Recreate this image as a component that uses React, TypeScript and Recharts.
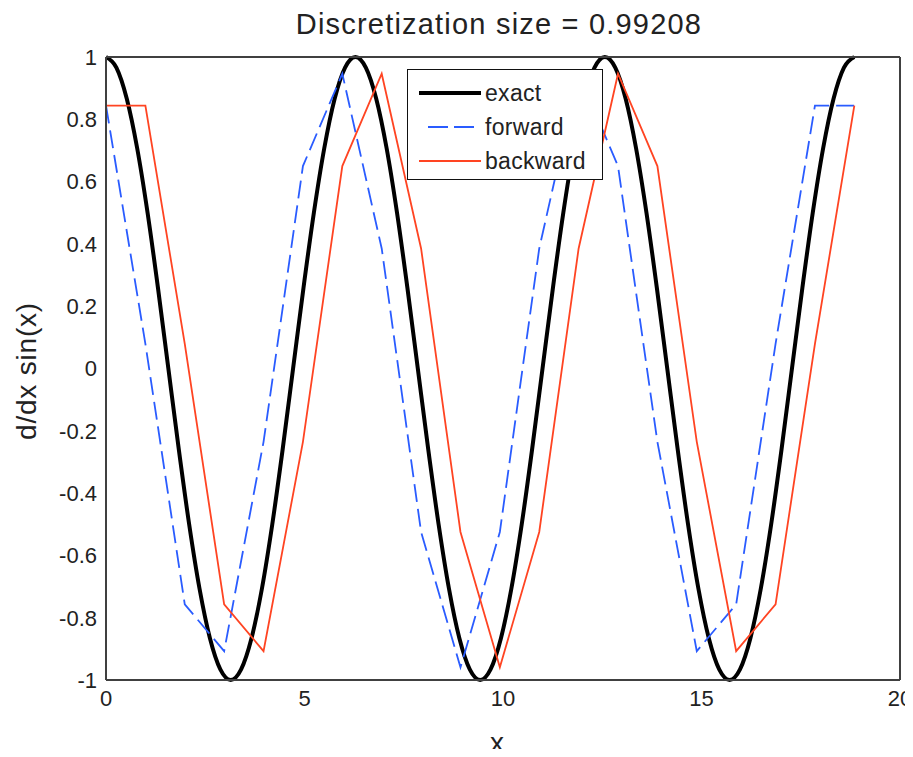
import React from 'react';
import { LineChart, Line, XAxis, YAxis, Legend } from 'recharts';

// discretization points (h = 0.99208)
const xDisc = [0, 0.9921, 1.9842, 2.9762, 3.9683, 4.9604, 5.9525, 6.9446, 7.9367, 8.9287, 9.9208, 10.9129, 11.905, 12.8971, 13.8892, 14.8812, 15.8733, 16.8654, 17.8575, 18.8496];
const forwardVals = [0.8438, 0.0792, -0.7571, -0.9074, -0.2355, 0.6498, 0.9464, 0.3854, -0.5247, -0.9594, -0.5247, 0.3854, 0.9464, 0.6498, -0.2355, -0.9074, -0.7571, 0.0792, 0.8438, 0.8438];
const backwardVals = [0.8438, 0.8438, 0.0792, -0.7571, -0.9074, -0.2355, 0.6498, 0.9464, 0.3854, -0.5247, -0.9594, -0.5247, 0.3854, 0.9464, 0.6498, -0.2355, -0.9074, -0.7571, 0.0792, 0.8438];

// exact derivative samples
const xExact = [0, 0.2618, 0.5236, 0.7854, 1.0472, 1.309, 1.5708, 1.8326, 2.0944, 2.3562, 2.618, 2.8798, 3.1416, 3.4034, 3.6652, 3.927, 4.1888, 4.4506, 4.7124, 4.9742, 5.236, 5.4978, 5.7596, 6.0214, 6.2832, 6.545, 6.8068, 7.0686, 7.3304, 7.5922, 7.854, 8.1158, 8.3776, 8.6394, 8.9012, 9.163, 9.4248, 9.6866, 9.9484, 10.2102, 10.472, 10.7338, 10.9956, 11.2574, 11.5192, 11.781, 12.0428, 12.3046, 12.5664, 12.8282, 13.09, 13.3518, 13.6136, 13.8754, 14.1372, 14.399, 14.6608, 14.9226, 15.1844, 15.4462, 15.708, 15.9698, 16.2316, 16.4934, 16.7552, 17.017, 17.2788, 17.5406, 17.8024, 18.0642, 18.326, 18.5878, 18.8496];
const yExact = [1, 0.9659, 0.866, 0.7071, 0.5, 0.2588, 0, -0.2588, -0.5, -0.7071, -0.866, -0.9659, -1, -0.9659, -0.866, -0.7071, -0.5, -0.2588, 0, 0.2588, 0.5, 0.7071, 0.866, 0.9659, 1, 0.9659, 0.866, 0.7071, 0.5, 0.2588, 0, -0.2588, -0.5, -0.7071, -0.866, -0.9659, -1, -0.9659, -0.866, -0.7071, -0.5, -0.2588, 0, 0.2588, 0.5, 0.7071, 0.866, 0.9659, 1, 0.9659, 0.866, 0.7071, 0.5, 0.2588, 0, -0.2588, -0.5, -0.7071, -0.866, -0.9659, -1, -0.9659, -0.866, -0.7071, -0.5, -0.2588, 0, 0.2588, 0.5, 0.7071, 0.866, 0.9659, 1];

const xTicks = [0, 5, 10, 15, 20];
const yTicks = [-1, -0.8, -0.6, -0.4, -0.2, 0, 0.2, 0.4, 0.6, 0.8, 1];

const titleText = 'Discretization size = 0.99208';
const xLabel = 'x';
const yLabel = 'd/dx sin(x)';
const seriesNames = ['exact', 'forward', 'backward'];

const exactData = xExact.map((x, i) => ({ x, y: yExact[i] }));
const forwardData = xDisc.map((x, i) => ({ x, y: forwardVals[i] }));
const backwardData = xDisc.map((x, i) => ({ x, y: backwardVals[i] }));

const FONT = '"Liberation Sans", Arial, Helvetica, sans-serif';
const AXIS = '#404040';
const BLUE = '#2a5cff';
const RED = '#ff4422';
const BLACK = '#000000';

const LegendBox = () => {
  const rows = [
    { name: seriesNames[0], color: BLACK, width: 4, dash: undefined as string | undefined, x1: 11, x2: 73 },
    { name: seriesNames[1], color: BLUE, width: 2, dash: '20 6', x1: 20, x2: 66 },
    { name: seriesNames[2], color: RED, width: 2, dash: undefined, x1: 11, x2: 73 },
  ];
  const centers = [23, 57, 91];
  return (
    <div
      style={{
        width: 196,
        height: 111,
        boxSizing: 'border-box',
        border: '1.5px solid #111',
        background: '#fff',
        position: 'relative',
        fontFamily: FONT,
      }}
    >
      {rows.map((r, i) => (
        <div key={r.name} style={{ position: 'absolute', left: 0, top: centers[i] - 14, height: 28, width: 194 }}>
          <svg width={80} height={28} style={{ position: 'absolute', left: 0, top: 0 }}>
            <line x1={r.x1} x2={r.x2} y1={14} y2={14} stroke={r.color} strokeWidth={r.width} strokeDasharray={r.dash} />
          </svg>
          <span
            style={{
              position: 'absolute',
              left: 77,
              top: 0,
              lineHeight: '28px',
              fontSize: 23,
              color: '#222',
              letterSpacing: 0.3,
              whiteSpace: 'nowrap',
            }}
          >
            {r.name}
          </span>
        </div>
      ))}
    </div>
  );
};

const emptyFmt = () => '';

export default function App() {
  return (
    <div style={{ position: 'relative', width: 913, height: 757, margin: '-8px 0 -8px -8px', fontFamily: FONT, background: '#fff', overflow: 'hidden' }}>
      <div
        style={{
          position: 'absolute',
          left: 0,
          width: 998,
          top: 9,
          textAlign: 'center',
          fontSize: 29,
          lineHeight: '30px',
          letterSpacing: 1.2,
          color: '#222',
          whiteSpace: 'nowrap',
        }}
      >
        {titleText}
      </div>
      <div
        style={{
          position: 'absolute',
          left: 27,
          top: 371,
          transform: 'translate(-50%, -50%) rotate(-90deg)',
          fontSize: 28,
          lineHeight: '30px',
          letterSpacing: 0.8,
          color: '#222',
          whiteSpace: 'nowrap',
        }}
      >
        {yLabel}
      </div>
      <div
        style={{
          position: 'absolute',
          left: 497,
          top: 743,
          transform: 'translate(-50%, -50%)',
          fontSize: 28,
          lineHeight: '22px',
          color: '#222',
          whiteSpace: 'nowrap',
        }}
      >
        {xLabel}
      </div>
      <LineChart width={913} height={757} margin={{ top: 57, right: 13, bottom: 0, left: 0 }} style={{ position: 'absolute', left: 0, top: 0 }}>
        <XAxis
          xAxisId="main"
          type="number"
          dataKey="x"
          domain={[0, 20]}
          ticks={xTicks}
          tickLine={false}
          tickSize={0}
          tickMargin={10}
          height={77}
          axisLine={{ stroke: AXIS, strokeWidth: 2 }}
          tick={{ fontSize: 22, fill: '#222', fontFamily: FONT }}
        />
        <XAxis
          xAxisId="bottomTicks"
          orientation="bottom"
          mirror
          type="number"
          dataKey="x"
          domain={[0, 20]}
          ticks={xTicks}
          tickSize={8}
          tickFormatter={emptyFmt}
          axisLine={false}
          tickLine={{ stroke: AXIS, strokeWidth: 1.5 }}
        />
        <XAxis
          xAxisId="top"
          orientation="top"
          mirror
          type="number"
          dataKey="x"
          domain={[0, 20]}
          ticks={xTicks}
          tickSize={8}
          tickFormatter={emptyFmt}
          axisLine={{ stroke: AXIS, strokeWidth: 2 }}
          tickLine={{ stroke: AXIS, strokeWidth: 1.5 }}
        />
        <YAxis
          yAxisId="main"
          type="number"
          domain={[-1, 1]}
          ticks={yTicks}
          tickLine={false}
          tickSize={0}
          tickMargin={9}
          width={106}
          axisLine={{ stroke: AXIS, strokeWidth: 2 }}
          tick={{ fontSize: 22, fill: '#222', fontFamily: FONT }}
          tickFormatter={(v: number) => String(v)}
        />
        <YAxis
          yAxisId="leftTicks"
          orientation="left"
          mirror
          type="number"
          domain={[-1, 1]}
          ticks={yTicks}
          tickSize={8}
          tickFormatter={emptyFmt}
          axisLine={false}
          tickLine={{ stroke: AXIS, strokeWidth: 1.5 }}
        />
        <YAxis
          yAxisId="right"
          orientation="right"
          mirror
          type="number"
          domain={[-1, 1]}
          ticks={yTicks}
          tickSize={8}
          tickFormatter={emptyFmt}
          axisLine={{ stroke: AXIS, strokeWidth: 2 }}
          tickLine={{ stroke: AXIS, strokeWidth: 1.5 }}
        />
        <Line
          xAxisId="main"
          yAxisId="main"
          data={exactData}
          dataKey="y"
          name={seriesNames[0]}
          type="monotone"
          stroke={BLACK}
          strokeWidth={4}
          dot={false}
          activeDot={false}
          isAnimationActive={false}
        />
        <Line
          xAxisId="main"
          yAxisId="main"
          data={forwardData}
          dataKey="y"
          name={seriesNames[1]}
          type="linear"
          stroke={BLUE}
          strokeWidth={1.8}
          strokeDasharray="18 7"
          dot={false}
          activeDot={false}
          isAnimationActive={false}
        />
        <Line
          xAxisId="main"
          yAxisId="main"
          data={backwardData}
          dataKey="y"
          name={seriesNames[2]}
          type="linear"
          stroke={RED}
          strokeWidth={1.8}
          dot={false}
          activeDot={false}
          isAnimationActive={false}
        />
        <Legend
          layout="vertical"
          align="center"
          verticalAlign="middle"
          content={() => <LegendBox />}
          wrapperStyle={{ position: 'absolute', left: 407, top: 69, width: 196, height: 111 }}
        />
      </LineChart>
    </div>
  );
}
